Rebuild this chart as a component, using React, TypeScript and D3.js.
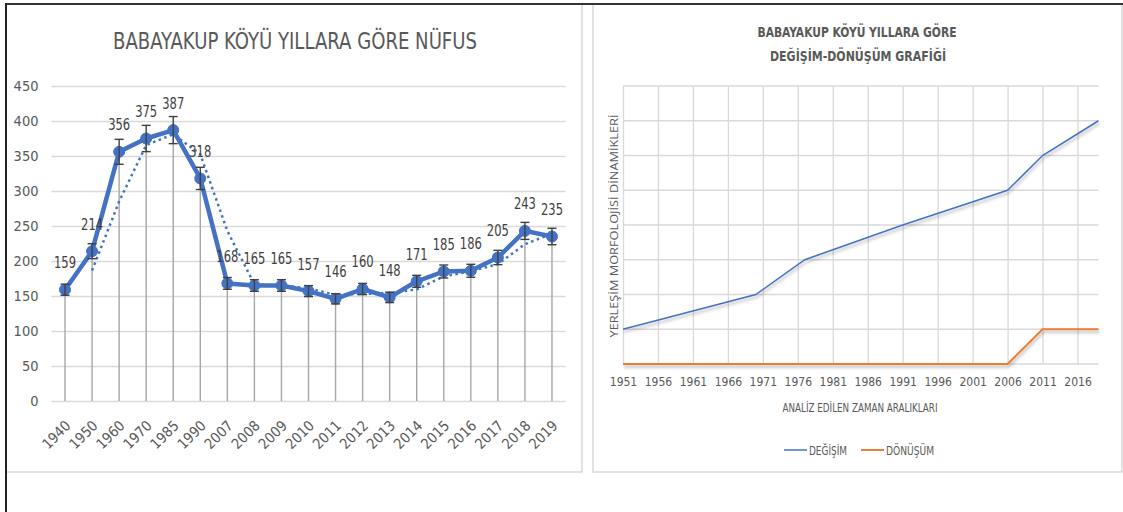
import React, { useEffect, useRef } from 'react';
import * as d3 from 'd3';

// Left chart: population by year
const years = ['1940', '1950', '1960', '1970', '1985', '1990', '2007', '2008', '2009', '2010', '2011', '2012', '2013', '2014', '2015', '2016', '2017', '2018', '2019'];
const population = [159, 214, 356, 375, 387, 318, 168, 165, 165, 157, 146, 160, 148, 171, 185, 186, 205, 243, 235];
const popTicks = [0, 50, 100, 150, 200, 250, 300, 350, 400, 450];

// Right chart: change / transformation
const degisimYears = [1951, 1970, 1977, 1991, 2006, 2011, 2019];
const degisimValues = [1, 2, 3, 4, 5, 6, 7];
const donusumYears = [1951, 2006, 2011, 2019];
const donusumValues = [0, 0, 1, 1];
const periodTicks = [1951, 1956, 1961, 1966, 1971, 1976, 1981, 1986, 1991, 1996, 2001, 2006, 2011, 2016];

const FONT = "'Liberation Sans Narrow', 'DejaVu Sans Condensed', Roboto, sans-serif";
const TXT = '#595959';
const GRID = '#d9d9d9';
const BLUE = '#4472C4';
const ORANGE = '#ED7D31';

export default function App() {
  const svgRef = useRef<SVGSVGElement>(null);

  useEffect(() => {
    if (!svgRef.current) return;
    const svg = d3.select(svgRef.current);
    svg.selectAll('*').remove();

    const defs = svg.append('defs');
    defs.append('filter')
      .attr('id', 'shadow')
      .attr('x', '-5%').attr('y', '-20%').attr('width', '110%').attr('height', '160%')
      .append('feDropShadow')
      .attr('dx', 1).attr('dy', 2.5).attr('stdDeviation', 1.5)
      .attr('flood-color', '#000').attr('flood-opacity', 0.3);

    // frames
    svg.append('line').attr('x1', 5).attr('x2', 1123).attr('y1', 4).attr('y2', 4).attr('stroke', '#333').attr('stroke-width', 2);
    svg.append('line').attr('x1', 6).attr('x2', 6).attr('y1', 3).attr('y2', 512).attr('stroke', '#222').attr('stroke-width', 2);
    const panel = svg.append('g').attr('fill', 'none').attr('stroke', '#d9d9d9').attr('stroke-width', 1.5);
    panel.append('path').attr('d', 'M582,5V472H7');
    panel.append('path').attr('d', 'M593,5V472H1122V5');

    // ---------- left chart ----------
    const x = d3.scaleBand<string>().domain(years).range([51.5, 565.5]);
    const cx = (d: string) => (x(d) as number) + x.bandwidth() / 2;
    const y = d3.scaleLinear().domain([0, 450]).range([401, 86]);
    const left = svg.append('g');

    left.append('text')
      .attr('x', 295).attr('y', 49).attr('text-anchor', 'middle')
      .attr('font-family', FONT).attr('font-size', 23).attr('fill', TXT)
      .attr('textLength', 364).attr('lengthAdjust', 'spacingAndGlyphs')
      .text('BABAYAKUP KÖYÜ YILLARA GÖRE NÜFUS');

    const yAxis = d3.axisLeft(y).tickValues(popTicks).tickSize(-(565.5 - 51.5)).tickPadding(13);
    left.append('g')
      .attr('transform', 'translate(51.5,0)')
      .call(yAxis)
      .call(g => g.select('.domain').remove())
      .call(g => g.selectAll('.tick line').attr('stroke', GRID).attr('stroke-width', 1.5))
      .call(g => g.selectAll('.tick text').attr('fill', TXT).attr('font-size', 14.5).attr('font-family', FONT));

    // x labels rotated
    left.append('g').selectAll('text').data(years).join('text')
      .attr('transform', d => `translate(${cx(d) + 3},${423}) rotate(-45)`)
      .attr('text-anchor', 'end').attr('dy', '0.35em')
      .attr('font-family', FONT).attr('font-size', 14.5).attr('fill', TXT)
      .text(d => d);

    // drop lines
    left.append('g').selectAll('line').data(years).join('line')
      .attr('x1', d => cx(d)).attr('x2', d => cx(d))
      .attr('y1', (_, i) => y(population[i])).attr('y2', y(0))
      .attr('stroke', '#a6a6a6').attr('stroke-width', 1.4);

    // moving average (period 2) trendline
    const ma = population.slice(1).map((v, i) => ({ k: years[i + 1], v: (v + population[i]) / 2 }));
    left.append('path')
      .datum(ma)
      .attr('d', d3.line<{ k: string; v: number }>().x(d => cx(d.k)).y(d => y(d.v)))
      .attr('fill', 'none').attr('stroke', BLUE).attr('stroke-width', 2.5)
      .attr('stroke-dasharray', '2.5 3.5');

    // main line
    const pts = years.map((k, i) => ({ k, v: population[i] }));
    left.append('path')
      .datum(pts)
      .attr('d', d3.line<{ k: string; v: number }>().x(d => cx(d.k)).y(d => y(d.v)))
      .attr('fill', 'none').attr('stroke', BLUE).attr('stroke-width', 4.5).attr('stroke-linejoin', 'round');

    left.append('g').selectAll('circle').data(pts).join('circle')
      .attr('cx', d => cx(d.k)).attr('cy', d => y(d.v)).attr('r', 5.5)
      .attr('fill', BLUE).attr('stroke', BLUE);

    // 5% error bars
    const eb = left.append('g').attr('stroke', '#404040').attr('stroke-width', 1.4);
    pts.forEach(d => {
      const px = cx(d.k);
      const hi = y(d.v * 1.05);
      const lo = y(d.v * 0.95);
      eb.append('line').attr('x1', px).attr('x2', px).attr('y1', hi).attr('y2', lo);
      eb.append('line').attr('x1', px - 4.5).attr('x2', px + 4.5).attr('y1', hi).attr('y2', hi);
      eb.append('line').attr('x1', px - 4.5).attr('x2', px + 4.5).attr('y1', lo).attr('y2', lo);
    });

    // data labels
    left.append('g').selectAll('text').data(pts).join('text')
      .attr('x', d => cx(d.k)).attr('y', d => y(d.v) - 27).attr('dy', '0.35em')
      .attr('text-anchor', 'middle')
      .attr('font-family', FONT).attr('font-size', 15.5).attr('fill', '#404040')
      .attr('textLength', 22).attr('lengthAdjust', 'spacingAndGlyphs')
      .text(d => d.v);

    // ---------- right chart ----------
    const rx = d3.scaleLinear().domain([1951, 2019]).range([623, 1098.5]);
    const ry = d3.scaleLinear().domain([0, 8]).range([364, 86]);
    const right = svg.append('g');

    right.append('text')
      .attr('x', 857).attr('y', 37).attr('text-anchor', 'middle')
      .attr('font-family', FONT).attr('font-size', 14).attr('font-weight', 'bold').attr('fill', TXT)
      .attr('textLength', 199).attr('lengthAdjust', 'spacingAndGlyphs')
      .text('BABAYAKUP KÖYÜ YILLARA GÖRE');
    right.append('text')
      .attr('x', 858).attr('y', 61).attr('text-anchor', 'middle')
      .attr('font-family', FONT).attr('font-size', 14).attr('font-weight', 'bold').attr('fill', TXT)
      .attr('textLength', 176).attr('lengthAdjust', 'spacingAndGlyphs')
      .text('DEĞİŞİM-DÖNÜŞÜM GRAFİĞİ');

    // horizontal grid
    right.append('g').selectAll('line').data(d3.range(1, 9)).join('line')
      .attr('x1', 623).attr('x2', 1098.5)
      .attr('y1', d => ry(d)).attr('y2', d => ry(d))
      .attr('stroke', GRID).attr('stroke-width', 1.3);

    // vertical grid + x axis
    const xAxis = d3.axisBottom(rx).tickValues(periodTicks).tickFormat(d3.format('d'))
      .tickSize(-(364 - 86)).tickPadding(13);
    right.append('g')
      .attr('transform', 'translate(0,364)')
      .call(xAxis)
      .call(g => g.select('.domain').attr('stroke', GRID).attr('stroke-width', 1.5).attr('d', 'M623,0H1098.5'))
      .call(g => g.selectAll('.tick line').attr('stroke', GRID).attr('stroke-width', 1.3))
      .call(g => g.selectAll('.tick text').attr('fill', TXT).attr('font-size', 12).attr('font-family', FONT));

    right.append('text')
      .attr('x', 860).attr('y', 412).attr('text-anchor', 'middle')
      .attr('font-family', FONT).attr('font-size', 12).attr('fill', TXT)
      .attr('textLength', 155).attr('lengthAdjust', 'spacingAndGlyphs')
      .text('ANALİZ EDİLEN ZAMAN ARALIKLARI');

    right.append('text')
      .attr('transform', 'translate(618,226) rotate(-90)').attr('text-anchor', 'middle')
      .attr('font-family', 'Open Sans, sans-serif').attr('font-size', 11).attr('fill', TXT)
      .attr('textLength', 223).attr('lengthAdjust', 'spacingAndGlyphs')
      .text('YERLEŞİM MORFOLOJİSİ DİNAMİKLERİ');

    const rline = d3.line<number>();
    right.append('path')
      .attr('d', rline(donusumYears.map((yr, i) => [rx(yr), ry(donusumValues[i])])))
      .attr('fill', 'none').attr('stroke', ORANGE).attr('stroke-width', 2).attr('filter', 'url(#shadow)');
    right.append('path')
      .attr('d', rline(degisimYears.map((yr, i) => [rx(yr), ry(degisimValues[i])])))
      .attr('fill', 'none').attr('stroke', BLUE).attr('stroke-width', 1.5).attr('filter', 'url(#shadow)');

    // legend
    const legend = [
      { name: 'DEĞİŞİM', color: BLUE, x: 784, w: 38 },
      { name: 'DÖNÜŞÜM', color: ORANGE, x: 861, w: 48 },
    ];
    legend.forEach(l => {
      right.append('line').attr('x1', l.x).attr('x2', l.x + 23).attr('y1', 450).attr('y2', 450)
        .attr('stroke', l.color).attr('stroke-width', l.color === BLUE ? 1.5 : 2);
      right.append('text').attr('x', l.x + 25).attr('y', 455)
        .attr('font-family', FONT).attr('font-size', 12).attr('fill', TXT)
        .attr('textLength', l.w).attr('lengthAdjust', 'spacingAndGlyphs')
        .text(l.name);
    });
  }, []);

  return (
    <svg
      ref={svgRef}
      width={1123}
      height={512}
      style={{ position: 'absolute', left: 0, top: 0, background: '#fff' }}
    />
  );
}
